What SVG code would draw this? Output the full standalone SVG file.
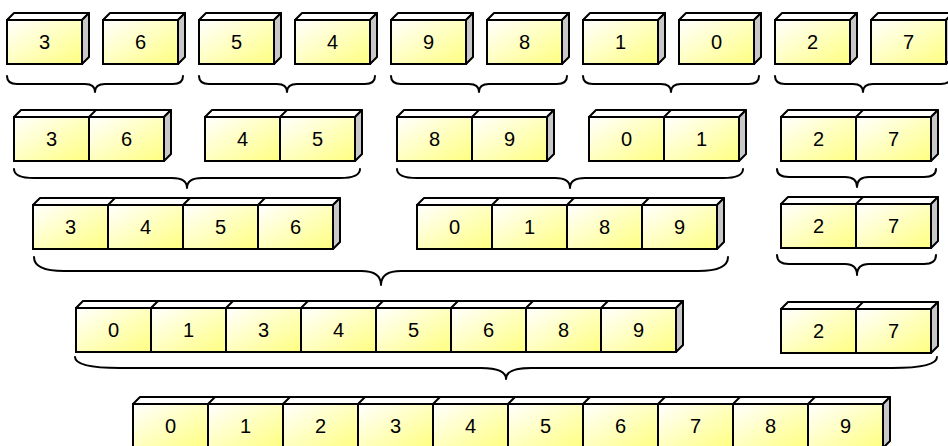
<svg xmlns="http://www.w3.org/2000/svg" width="948" height="446" viewBox="0 0 948 446">
<defs>
<linearGradient id="g" x1="0" y1="0" x2="1" y2="1">
<stop offset="0" stop-color="#ffffff"/>
<stop offset="1" stop-color="#ffff80"/>
</linearGradient>
<style>
.top{fill:#ffffff;stroke:#000;stroke-width:2;stroke-linejoin:round}
.side{fill:#c8c8c8;stroke:#000;stroke-width:2;stroke-linejoin:round}
.cell{fill:url(#g);stroke:#000;stroke-width:2}
.dv{stroke:#000;stroke-width:2;fill:none}
.num{font-family:"Liberation Sans",Arial,sans-serif;font-size:20px;text-anchor:middle;fill:#000}
.brace{fill:none;stroke:#000;stroke-width:2;stroke-linecap:round;stroke-linejoin:round}
</style>
</defs>
<rect width="948" height="446" fill="#fff"/>

<!-- Row 1 -->
<g id="r1-3" transform="translate(7,20)"><path class="top" d="M0,0 L7,-7 L82,-7 L75,0 Z"/><path class="side" d="M75,0 L82,-7 L82,37 L75,44 Z"/><rect class="cell" x="0" y="0" width="75" height="44"/><text class="num" x="37.5" y="29">3</text></g>
<g id="r1-6" transform="translate(103,20)"><path class="top" d="M0,0 L7,-7 L82,-7 L75,0 Z"/><path class="side" d="M75,0 L82,-7 L82,37 L75,44 Z"/><rect class="cell" x="0" y="0" width="75" height="44"/><text class="num" x="37.5" y="29">6</text></g>
<g id="r1-5" transform="translate(199,20)"><path class="top" d="M0,0 L7,-7 L82,-7 L75,0 Z"/><path class="side" d="M75,0 L82,-7 L82,37 L75,44 Z"/><rect class="cell" x="0" y="0" width="75" height="44"/><text class="num" x="37.5" y="29">5</text></g>
<g id="r1-4" transform="translate(295,20)"><path class="top" d="M0,0 L7,-7 L82,-7 L75,0 Z"/><path class="side" d="M75,0 L82,-7 L82,37 L75,44 Z"/><rect class="cell" x="0" y="0" width="75" height="44"/><text class="num" x="37.5" y="29">4</text></g>
<g id="r1-9" transform="translate(391,20)"><path class="top" d="M0,0 L7,-7 L82,-7 L75,0 Z"/><path class="side" d="M75,0 L82,-7 L82,37 L75,44 Z"/><rect class="cell" x="0" y="0" width="75" height="44"/><text class="num" x="37.5" y="29">9</text></g>
<g id="r1-8" transform="translate(487,20)"><path class="top" d="M0,0 L7,-7 L82,-7 L75,0 Z"/><path class="side" d="M75,0 L82,-7 L82,37 L75,44 Z"/><rect class="cell" x="0" y="0" width="75" height="44"/><text class="num" x="37.5" y="29">8</text></g>
<g id="r1-1" transform="translate(583,20)"><path class="top" d="M0,0 L7,-7 L82,-7 L75,0 Z"/><path class="side" d="M75,0 L82,-7 L82,37 L75,44 Z"/><rect class="cell" x="0" y="0" width="75" height="44"/><text class="num" x="37.5" y="29">1</text></g>
<g id="r1-0" transform="translate(679,20)"><path class="top" d="M0,0 L7,-7 L82,-7 L75,0 Z"/><path class="side" d="M75,0 L82,-7 L82,37 L75,44 Z"/><rect class="cell" x="0" y="0" width="75" height="44"/><text class="num" x="37.5" y="29">0</text></g>
<g id="r1-2" transform="translate(775,20)"><path class="top" d="M0,0 L7,-7 L82,-7 L75,0 Z"/><path class="side" d="M75,0 L82,-7 L82,37 L75,44 Z"/><rect class="cell" x="0" y="0" width="75" height="44"/><text class="num" x="37.5" y="29">2</text></g>
<g id="r1-7" transform="translate(871,20)"><path class="top" d="M0,0 L7,-7 L82,-7 L75,0 Z"/><path class="side" d="M75,0 L82,-7 L82,37 L75,44 Z"/><rect class="cell" x="0" y="0" width="75" height="44"/><text class="num" x="37.5" y="29">7</text></g>

<!-- Row 2 -->
<g id="r2-36" transform="translate(14,117)"><path class="top" d="M0,0 L7,-7 L157,-7 L150,0 Z"/><path class="dv" d="M75,0 L82,-7"/><path class="side" d="M150,0 L157,-7 L157,37 L150,44 Z"/><rect class="cell" x="0" y="0" width="75" height="44"/><rect class="cell" x="75" y="0" width="75" height="44"/><text class="num" x="37.5" y="29">3</text><text class="num" x="112.5" y="29">6</text></g>
<g id="r2-45" transform="translate(205,117)"><path class="top" d="M0,0 L7,-7 L157,-7 L150,0 Z"/><path class="dv" d="M75,0 L82,-7"/><path class="side" d="M150,0 L157,-7 L157,37 L150,44 Z"/><rect class="cell" x="0" y="0" width="75" height="44"/><rect class="cell" x="75" y="0" width="75" height="44"/><text class="num" x="37.5" y="29">4</text><text class="num" x="112.5" y="29">5</text></g>
<g id="r2-89" transform="translate(397,117)"><path class="top" d="M0,0 L7,-7 L157,-7 L150,0 Z"/><path class="dv" d="M75,0 L82,-7"/><path class="side" d="M150,0 L157,-7 L157,37 L150,44 Z"/><rect class="cell" x="0" y="0" width="75" height="44"/><rect class="cell" x="75" y="0" width="75" height="44"/><text class="num" x="37.5" y="29">8</text><text class="num" x="112.5" y="29">9</text></g>
<g id="r2-01" transform="translate(589,117)"><path class="top" d="M0,0 L7,-7 L157,-7 L150,0 Z"/><path class="dv" d="M75,0 L82,-7"/><path class="side" d="M150,0 L157,-7 L157,37 L150,44 Z"/><rect class="cell" x="0" y="0" width="75" height="44"/><rect class="cell" x="75" y="0" width="75" height="44"/><text class="num" x="37.5" y="29">0</text><text class="num" x="112.5" y="29">1</text></g>
<g id="r2-27" transform="translate(781,117)"><path class="top" d="M0,0 L7,-7 L157,-7 L150,0 Z"/><path class="dv" d="M75,0 L82,-7"/><path class="side" d="M150,0 L157,-7 L157,37 L150,44 Z"/><rect class="cell" x="0" y="0" width="75" height="44"/><rect class="cell" x="75" y="0" width="75" height="44"/><text class="num" x="37.5" y="29">2</text><text class="num" x="112.5" y="29">7</text></g>

<!-- Row 3 -->
<g id="r3-3456" transform="translate(33,205)"><path class="top" d="M0,0 L7,-7 L307,-7 L300,0 Z"/><path class="dv" d="M75,0 L82,-7 M150,0 L157,-7 M225,0 L232,-7"/><path class="side" d="M300,0 L307,-7 L307,37 L300,44 Z"/><rect class="cell" x="0" y="0" width="75" height="44"/><rect class="cell" x="75" y="0" width="75" height="44"/><rect class="cell" x="150" y="0" width="75" height="44"/><rect class="cell" x="225" y="0" width="75" height="44"/><text class="num" x="37.5" y="29">3</text><text class="num" x="112.5" y="29">4</text><text class="num" x="187.5" y="29">5</text><text class="num" x="262.5" y="29">6</text></g>
<g id="r3-0189" transform="translate(417,205)"><path class="top" d="M0,0 L7,-7 L307,-7 L300,0 Z"/><path class="dv" d="M75,0 L82,-7 M150,0 L157,-7 M225,0 L232,-7"/><path class="side" d="M300,0 L307,-7 L307,37 L300,44 Z"/><rect class="cell" x="0" y="0" width="75" height="44"/><rect class="cell" x="75" y="0" width="75" height="44"/><rect class="cell" x="150" y="0" width="75" height="44"/><rect class="cell" x="225" y="0" width="75" height="44"/><text class="num" x="37.5" y="29">0</text><text class="num" x="112.5" y="29">1</text><text class="num" x="187.5" y="29">8</text><text class="num" x="262.5" y="29">9</text></g>
<g id="r3-27" transform="translate(781,204)"><path class="top" d="M0,0 L7,-7 L157,-7 L150,0 Z"/><path class="dv" d="M75,0 L82,-7"/><path class="side" d="M150,0 L157,-7 L157,37 L150,44 Z"/><rect class="cell" x="0" y="0" width="75" height="44"/><rect class="cell" x="75" y="0" width="75" height="44"/><text class="num" x="37.5" y="29">2</text><text class="num" x="112.5" y="29">7</text></g>

<!-- Row 4 -->
<g id="r4-01345689" transform="translate(76,308)"><path class="top" d="M0,0 L7,-7 L607,-7 L600,0 Z"/><path class="dv" d="M75,0 L82,-7 M150,0 L157,-7 M225,0 L232,-7 M300,0 L307,-7 M375,0 L382,-7 M450,0 L457,-7 M525,0 L532,-7"/><path class="side" d="M600,0 L607,-7 L607,37 L600,44 Z"/><rect class="cell" x="0" y="0" width="75" height="44"/><rect class="cell" x="75" y="0" width="75" height="44"/><rect class="cell" x="150" y="0" width="75" height="44"/><rect class="cell" x="225" y="0" width="75" height="44"/><rect class="cell" x="300" y="0" width="75" height="44"/><rect class="cell" x="375" y="0" width="75" height="44"/><rect class="cell" x="450" y="0" width="75" height="44"/><rect class="cell" x="525" y="0" width="75" height="44"/><text class="num" x="37.5" y="29">0</text><text class="num" x="112.5" y="29">1</text><text class="num" x="187.5" y="29">3</text><text class="num" x="262.5" y="29">4</text><text class="num" x="337.5" y="29">5</text><text class="num" x="412.5" y="29">6</text><text class="num" x="487.5" y="29">8</text><text class="num" x="562.5" y="29">9</text></g>
<g id="r4-27" transform="translate(781,309)"><path class="top" d="M0,0 L7,-7 L157,-7 L150,0 Z"/><path class="dv" d="M75,0 L82,-7"/><path class="side" d="M150,0 L157,-7 L157,37 L150,44 Z"/><rect class="cell" x="0" y="0" width="75" height="44"/><rect class="cell" x="75" y="0" width="75" height="44"/><text class="num" x="37.5" y="29">2</text><text class="num" x="112.5" y="29">7</text></g>

<!-- Row 5 -->
<g id="r5-all" transform="translate(133,404)"><path class="top" d="M0,0 L7,-7 L757,-7 L750,0 Z"/><path class="dv" d="M75,0 L82,-7 M150,0 L157,-7 M225,0 L232,-7 M300,0 L307,-7 M375,0 L382,-7 M450,0 L457,-7 M525,0 L532,-7 M600,0 L607,-7 M675,0 L682,-7"/><path class="side" d="M750,0 L757,-7 L757,37 L750,44 Z"/><rect class="cell" x="0" y="0" width="75" height="44"/><rect class="cell" x="75" y="0" width="75" height="44"/><rect class="cell" x="150" y="0" width="75" height="44"/><rect class="cell" x="225" y="0" width="75" height="44"/><rect class="cell" x="300" y="0" width="75" height="44"/><rect class="cell" x="375" y="0" width="75" height="44"/><rect class="cell" x="450" y="0" width="75" height="44"/><rect class="cell" x="525" y="0" width="75" height="44"/><rect class="cell" x="600" y="0" width="75" height="44"/><rect class="cell" x="675" y="0" width="75" height="44"/><text class="num" x="37.5" y="29">0</text><text class="num" x="112.5" y="29">1</text><text class="num" x="187.5" y="29">2</text><text class="num" x="262.5" y="29">3</text><text class="num" x="337.5" y="29">4</text><text class="num" x="412.5" y="29">5</text><text class="num" x="487.5" y="29">6</text><text class="num" x="562.5" y="29">7</text><text class="num" x="637.5" y="29">8</text><text class="num" x="712.5" y="29">9</text></g>

<!-- Connectors (braces) -->
<g id="connectors">
<path class="brace" d="M7,76 Q7,84 17,84 L85,84 Q95,84 95,92 Q95,84 105,84 L173,84 Q183,84 183,76"/>
<path class="brace" d="M199,76 Q199,84 209,84 L277,84 Q287,84 287,92 Q287,84 297,84 L365,84 Q375,84 375,76"/>
<path class="brace" d="M391,76 Q391,84 401,84 L469,84 Q479,84 479,92 Q479,84 489,84 L557,84 Q567,84 567,76"/>
<path class="brace" d="M583,76 Q583,84 593,84 L661,84 Q671,84 671,92 Q671,84 681,84 L749,84 Q759,84 759,76"/>
<path class="brace" d="M775,76 Q775,84 785,84 L853,84 Q863,84 863,92 Q863,84 873,84 L941,84 Q951,84 951,76"/>
<path class="brace" d="M14,169 Q14,178 34,178 L172,178 Q187,178 187,188 Q187,178 202,178 L340,178 Q360,178 360,169"/>
<path class="brace" d="M397,169 Q397,178 417,178 L555,178 Q570,178 570,188 Q570,178 585,178 L723,178 Q743,178 743,169"/>
<path class="brace" d="M777,169 Q777,177 789,177 L845,177 Q857,177 857,187 Q857,177 869,177 L924,177 Q936,177 936,169"/>
<path class="brace" d="M34,257 Q34,271 64,271 L361,271 Q381,271 381,285 Q381,271 401,271 L698,271 Q728,271 728,257"/>
<path class="brace" d="M777,255 Q777,264 789,264 L845,264 Q857,264 857,275 Q857,264 869,264 L924,264 Q936,264 936,255"/>
<path class="brace" d="M75,357 Q75,368 120,368 L481,368 Q506,368 506,379 Q506,368 531,368 L892,368 Q937,368 937,357"/>
</g>
</svg>
